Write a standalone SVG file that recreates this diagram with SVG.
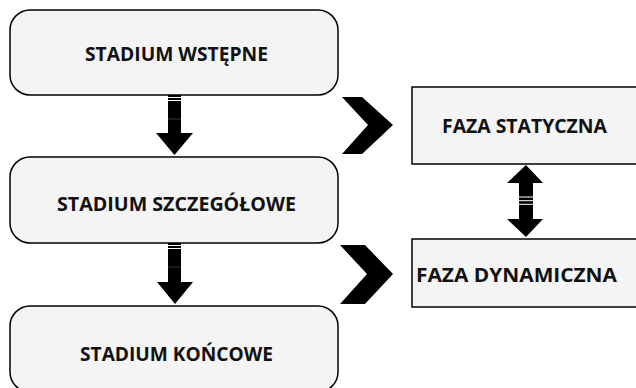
<svg xmlns="http://www.w3.org/2000/svg" width="636" height="388" viewBox="0 0 636 388">
<style>
.stage{fill:#f4f4f4;stroke:#000;stroke-width:1.5}
.phase{fill:#f4f4f4;stroke:#000;stroke-width:1.5}
.lbl{font-family:"Open Sans","Liberation Sans",sans-serif;font-weight:bold;font-size:20px;fill:#111;text-anchor:middle}
.blk{fill:#000}
.str{stroke:#fff;stroke-width:1}
.div{stroke:#444;stroke-width:0.8}
</style>
<rect width="636" height="388" fill="#fff"/>
<g id="node-wstepne">
<rect class="stage" x="10" y="10" width="328" height="85" rx="20"/>
<text class="lbl" x="176.5" y="61" textLength="183" lengthAdjust="spacingAndGlyphs">STADIUM WSTĘPNE</text>
</g>
<g id="node-szczegolowe">
<rect class="stage" x="10" y="157" width="328" height="86" rx="20"/>
<text class="lbl" x="176.5" y="211" textLength="239" lengthAdjust="spacingAndGlyphs">STADIUM SZCZEGÓŁOWE</text>
</g>
<g id="node-koncowe">
<rect class="stage" x="10" y="306" width="328" height="86" rx="20"/>
<text class="lbl" x="176.5" y="361" textLength="193" lengthAdjust="spacingAndGlyphs">STADIUM KOŃCOWE</text>
</g>
<g id="node-statyczna">
<rect class="phase" x="412" y="87" width="230" height="77"/>
<text class="lbl" x="524.5" y="133" textLength="165" lengthAdjust="spacingAndGlyphs">FAZA STATYCZNA</text>
</g>
<g id="node-dynamiczna">
<rect class="phase" x="412" y="239" width="230" height="68"/>
<text class="lbl" x="516.5" y="282" textLength="201" lengthAdjust="spacingAndGlyphs">FAZA DYNAMICZNA</text>
</g>
<g id="connectors">
<g id="arrow-1">
<rect class="blk" x="168" y="95" width="13" height="39"/>
<polygon class="blk" points="156,133 193,133 174.5,155"/>
<line class="str" x1="168" y1="97.5" x2="181" y2="97.5"/>
<line class="str" x1="168" y1="100.5" x2="181" y2="100.5"/>
<line class="div" x1="168" y1="119" x2="181" y2="119"/>
</g>
<g id="arrow-2">
<rect class="blk" x="168" y="243" width="13" height="40"/>
<polygon class="blk" points="157,282 193,282 175,304"/>
<line class="str" x1="168" y1="245.5" x2="181" y2="245.5"/>
<line class="str" x1="168" y1="248.5" x2="181" y2="248.5"/>
<line class="div" x1="168" y1="267" x2="181" y2="267"/>
</g>
<g id="arrow-both">
<polygon class="blk" points="526,165 543,183 507,183"/>
<rect class="blk" x="519" y="182" width="14" height="38"/>
<polygon class="blk" points="507,219 543,219 526,237"/>
<line class="str" x1="519" y1="197" x2="533" y2="197"/>
<line class="str" x1="519" y1="200.7" x2="533" y2="200.7"/>
<line class="str" x1="519" y1="204.3" x2="533" y2="204.3"/>
</g>
<polygon id="chevron-1" class="blk" points="342,97 362,97 393,125 362,154 342,154 368,125"/>
<polygon id="chevron-2" class="blk" points="340,245 365,245 393,274 365,304 340,304 367,274"/>
</g>
</svg>
